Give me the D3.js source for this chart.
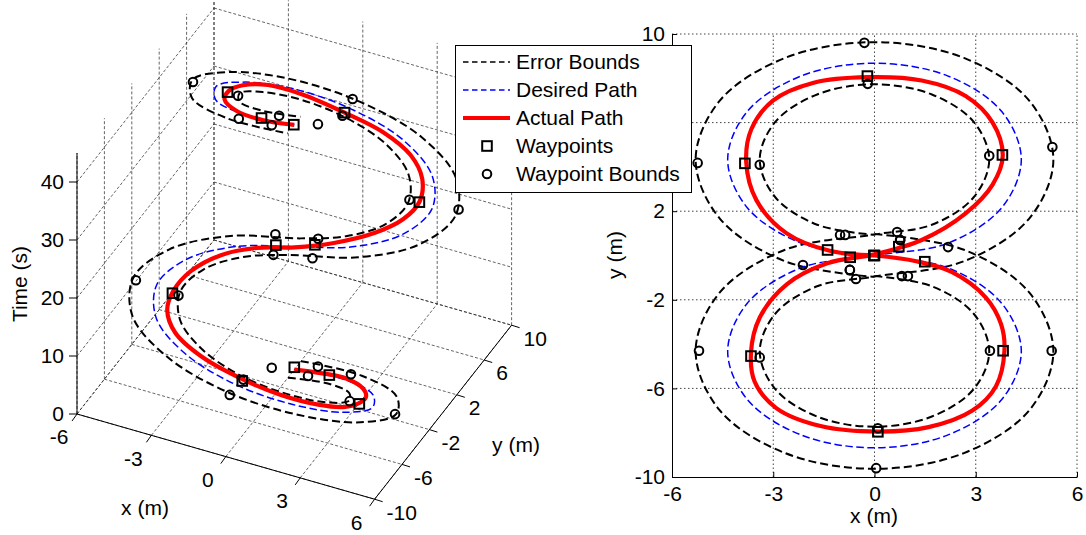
<!DOCTYPE html>
<html>
<head>
<meta charset="utf-8">
<script src="https://cdn.jsdelivr.net/npm/d3@7"></script>
<style>
  body { margin: 0; background: #fff; }
  svg { display: block; font-family: "Liberation Sans", Arial, sans-serif; }
</style>
</head>
<body>
<svg width="1086" height="535"></svg>
<script>
// ticks
var xTicks = [-6, -3, 0, 3, 6];
var yTicks = [-10, -6, -2, 2, 6, 10];
var tTicks = [0, 10, 20, 30, 40];

// desired path (x, y in m, time in s)
var desiredX = [0, 2.18, 3.77, 4.35, 3.77, 2.18, 0, -2.18, -3.77, -4.35, -3.77, -2.18, 0, 2.18, 3.77, 4.35, 3.77, 2.18, 0, -2.18, -3.77, -4.35, -3.77, -2.18, 0];
var desiredY = [0, -0.56, -2.16, -4.33, -6.5, -8.1, -8.68, -8.1, -6.5, -4.33, -2.16, -0.56, 0, 0.56, 2.16, 4.33, 6.5, 8.1, 8.68, 8.1, 6.5, 4.33, 2.16, 0.56, 0];
var desiredT = [0, 1.8, 3.5, 5.3, 7.0, 8.8, 10.5, 12.3, 14.0, 15.8, 17.6, 19.4, 21.2, 23.0, 24.7, 26.5, 28.2, 30.0, 31.7, 33.5, 35.2, 37.0, 38.7, 40.5, 42.2];

// error bounds (same times as desired path)
var boundAX = [0, 2.65, 4.59, 5.3, 4.59, 2.65, 0, -2.65, -4.59, -5.3, -4.59, -2.65, 0, 1.7, 2.94, 3.4, 2.94, 1.7, 0, -1.7, -2.94, -3.4, -2.94, -1.7, 0];
var boundAY = [0.97, 0.26, -1.68, -4.33, -6.98, -8.92, -9.63, -8.92, -6.98, -4.33, -1.68, 0.26, 0.95, 1.39, 2.63, 4.33, 6.03, 7.27, 7.73, 7.27, 6.03, 4.33, 2.63, 1.39, 0.93];
var boundBX = [0, 1.7, 2.94, 3.4, 2.94, 1.7, 0, -1.7, -2.94, -3.4, -2.94, -1.7, 0, 2.65, 4.59, 5.3, 4.59, 2.65, 0, -2.65, -4.59, -5.3, -4.59, -2.65, 0];
var boundBY = [-0.93, -1.39, -2.63, -4.33, -6.03, -7.27, -7.73, -7.27, -6.03, -4.33, -2.63, -1.39, -0.95, -0.26, 1.68, 4.33, 6.98, 8.92, 9.63, 8.92, 6.98, 4.33, 1.68, -0.26, -0.97];

// actual path
var actualX = [0, 1.2, 2.3, 3.3, 3.75, 3.85, 3.6, 2.9, 1.6, 0.1, -1.6, -2.9, -3.55, -3.66, -3.4, -2.6, -1.4, 0, 1.4, 2.7, 3.5, 3.8, 3.5, 2.7, 1.4, -0.2, -1.8, -3.0, -3.65, -3.8, -3.5, -2.6, -1.3, 0];
var actualY = [0, -0.25, -0.75, -1.9, -3.1, -4.3, -5.9, -7.0, -7.75, -7.95, -7.7, -6.9, -5.7, -4.4, -2.8, -1.3, -0.35, 0.05, 0.7, 1.9, 3.2, 4.5, 6.0, 7.2, 7.9, 8.05, 7.8, 7.0, 5.7, 4.2, 2.5, 1.0, 0.2, 0];
var actualT = [0, 1.2, 2.4, 3.6, 4.6, 5.5, 6.8, 8.0, 9.2, 10.4, 11.8, 13.2, 14.5, 15.7, 17.0, 18.5, 19.8, 21.0, 22.5, 24.0, 25.4, 26.8, 28.2, 29.5, 30.8, 32.0, 33.5, 34.9, 36.0, 37.1, 38.5, 39.9, 41.1, 42.2];

// waypoints
var wpX = [0, 1.49, 3.81, 0.10, -3.66, -0.72, 0.72, 3.79, -0.21, -3.84, -1.39, -0.02];
var wpY = [0, -0.28, -4.30, -7.96, -4.54, -0.08, 0.40, 4.54, 8.10, 4.16, 0.25, 0.0];
var wpT = [0.4, 1.3, 5.2, 10.1, 15.5, 20.7, 21.8, 26.7, 31.9, 36.9, 41.3, 42.2];

// waypoint bounds
var wbX = [-0.73, 0.76, 0.81, 2.18, 5.25, 3.42, 0.05, 0.1, -5.2, -3.4, -0.55, -1.02, 0.99, 0.67, 5.27, 3.4, -0.3, -0.2, -5.24, -3.4, -2.12, -0.87, -0.73, 0.76];
var wbY = [-0.65, 0.70, -0.93, 0.38, -4.3, -4.3, -9.6, -7.8, -4.3, -4.6, -1.06, 0.93, -0.93, 1.06, 4.9, 4.5, 9.6, 7.75, 4.18, 4.1, -0.43, 0.93, -0.65, 0.70];
var wbT = [0.4, 0.4, 1.3, 1.3, 5.2, 5.2, 10.1, 10.1, 15.5, 15.5, 20.7, 20.7, 21.8, 21.8, 26.7, 26.7, 31.9, 31.9, 36.9, 36.9, 41.3, 41.3, 42.2, 42.2];

var legendNames = ["Error Bounds", "Desired Path", "Actual Path", "Waypoints", "Waypoint Bounds"];

function zip(X, Y, T) {
  return X.map(function(d, i) { return {x: d, y: Y[i], t: T[i]}; });
}

var svg = d3.select("svg");
var font = 21;

// ---------- 3D plot (left) ----------
var tMax = 45;
var origin = [77, 414];
var ex = [297.6, 85.2], ey = [137, -174], ez = [0, -261];
var kx = d3.scaleLinear().domain([-6, 6]).range([0, 1]);
var ky = d3.scaleLinear().domain([-10, 10]).range([0, 1]);
var kz = d3.scaleLinear().domain([0, tMax]).range([0, 1]);

function proj(x, y, t) {
  var a = kx(x), b = ky(y), c = kz(t);
  return [origin[0] + a * ex[0] + b * ey[0] + c * ez[0],
          origin[1] + a * ex[1] + b * ey[1] + c * ez[1]];
}

var g3 = svg.append("g");

var gridSegs = [];
xTicks.forEach(function(v) {
  gridSegs.push([proj(v, -10, 0), proj(v, 10, 0)]);
  gridSegs.push([proj(v, 10, 0), proj(v, 10, tMax)]);
});
yTicks.forEach(function(v) {
  gridSegs.push([proj(-6, v, 0), proj(6, v, 0)]);
  gridSegs.push([proj(-6, v, 0), proj(-6, v, tMax)]);
});
tTicks.forEach(function(v) {
  gridSegs.push([proj(-6, -10, v), proj(-6, 10, v)]);
  gridSegs.push([proj(-6, 10, v), proj(6, 10, v)]);
});

g3.selectAll(".grid3")
    .data(gridSegs)
  .enter().append("line")
    .attr("x1", function(d) { return d[0][0]; })
    .attr("y1", function(d) { return d[0][1]; })
    .attr("x2", function(d) { return d[1][0]; })
    .attr("y2", function(d) { return d[1][1]; })
    .style("stroke", "#222")
    .style("stroke-width", 0.7)
    .style("stroke-dasharray", "3,2");

var axisSegs = [
  [proj(-6, -10, 0), proj(-6, -10, tMax)],
  [proj(-6, -10, 0), proj(6, -10, 0)],
  [proj(6, -10, 0), proj(6, 10, 0)]
];
g3.selectAll(".axis3")
    .data(axisSegs)
  .enter().append("line")
    .attr("x1", function(d) { return d[0][0]; })
    .attr("y1", function(d) { return d[0][1]; })
    .attr("x2", function(d) { return d[1][0]; })
    .attr("y2", function(d) { return d[1][1]; })
    .style("stroke", "#000")
    .style("stroke-width", 1);

// z ticks
tTicks.forEach(function(v) {
  var p = proj(-6, -10, v);
  g3.append("line").attr("x1", p[0] - 8).attr("y1", p[1]).attr("x2", p[0]).attr("y2", p[1])
      .style("stroke", "#000");
  g3.append("text").attr("x", p[0] - 13).attr("y", p[1]).attr("dy", "0.35em")
      .style("text-anchor", "end").style("font-size", font + "px").text(v);
});
// x ticks
xTicks.forEach(function(v) {
  var p = proj(v, -10, 0);
  g3.append("line").attr("x1", p[0]).attr("y1", p[1]).attr("x2", p[0] - 5).attr("y2", p[1] + 7)
      .style("stroke", "#000");
  g3.append("text").attr("x", p[0] - 18).attr("y", p[1] + 23).attr("dy", "0.35em")
      .style("text-anchor", "middle").style("font-size", font + "px").text(v);
});
// y ticks
yTicks.forEach(function(v) {
  var p = proj(6, v, 0);
  g3.append("line").attr("x1", p[0]).attr("y1", p[1]).attr("x2", p[0] + 8).attr("y2", p[1] + 2.5)
      .style("stroke", "#000");
  g3.append("text").attr("x", p[0] + 12).attr("y", p[1] + 13).attr("dy", "0.35em")
      .style("text-anchor", "start").style("font-size", font + "px").text(v);
});

g3.append("text").attr("x", 145).attr("y", 508).attr("dy", "0.35em")
    .style("text-anchor", "middle").style("font-size", font + "px").text("x (m)");
g3.append("text").attr("x", 516).attr("y", 445).attr("dy", "0.35em")
    .style("text-anchor", "middle").style("font-size", font + "px").text("y (m)");
g3.append("text").attr("transform", "translate(27,284) rotate(-90)")
    .style("text-anchor", "middle").style("font-size", font + "px").text("Time (s)");

var line3 = d3.line()
    .x(function(d) { return proj(d.x, d.y, d.t)[0]; })
    .y(function(d) { return proj(d.x, d.y, d.t)[1]; })
    .curve(d3.curveCatmullRom.alpha(0.5));

// ---------- 2D plot (right) ----------
var x2 = d3.scaleLinear().domain([-6, 6]).range([672, 1077]);
var y2 = d3.scaleLinear().domain([-10, 10]).range([477, 34]);

var g2 = svg.append("g");

g2.selectAll(".gx")
    .data(xTicks.slice(1))
  .enter().append("line")
    .attr("x1", function(d) { return x2(d); }).attr("x2", function(d) { return x2(d); })
    .attr("y1", y2(-10)).attr("y2", y2(10))
    .style("stroke", "#444").style("stroke-width", 1).style("stroke-dasharray", "1.5,2.5");
g2.selectAll(".gy")
    .data(yTicks.slice(1))
  .enter().append("line")
    .attr("y1", function(d) { return y2(d); }).attr("y2", function(d) { return y2(d); })
    .attr("x1", x2(-6)).attr("x2", x2(6))
    .style("stroke", "#444").style("stroke-width", 1).style("stroke-dasharray", "1.5,2.5");

var fmt = function(d) { return String(d); };
var xAxis2 = d3.axisBottom(x2).tickValues(xTicks).tickFormat(fmt).tickSizeInner(-5).tickSizeOuter(0).tickPadding(9);
var yAxis2 = d3.axisLeft(y2).tickValues(yTicks).tickFormat(fmt).tickSizeInner(-5).tickSizeOuter(0).tickPadding(7);

g2.append("g").attr("transform", "translate(0," + y2(-10) + ")").call(xAxis2);
g2.append("g").attr("transform", "translate(" + x2(-6) + ",0)").call(yAxis2);
g2.selectAll(".tick text").style("font-size", font + "px").style("font-family", "Liberation Sans, Arial, sans-serif").attr("fill", "#000");
g2.selectAll(".domain, .tick line").attr("stroke", "#000");

g2.append("text").attr("x", 874).attr("y", 523)
    .style("text-anchor", "middle").style("font-size", font + "px").text("x (m)");
g2.append("text").attr("transform", "translate(622,255) rotate(-90)")
    .style("text-anchor", "middle").style("font-size", font + "px").text("y (m)");

var line2 = d3.line()
    .x(function(d) { return x2(d.x); })
    .y(function(d) { return y2(d.y); })
    .curve(d3.curveCatmullRom.alpha(0.5));

// ---------- series, drawn in both plots ----------
var boundA = zip(boundAX, boundAY, desiredT);
var boundB = zip(boundBX, boundBY, desiredT);
var desired = zip(desiredX, desiredY, desiredT);
var actual = zip(actualX, actualY, actualT);
var waypoints = zip(wpX, wpY, wpT);
var wpBounds = zip(wbX, wbY, wbT);

var styles = {
  bound: {stroke: "#000", width: 2, dash: "8,4"},
  desired: {stroke: "#0000ff", width: 1.5, dash: "7.5,3.5"},
  actual: {stroke: "#ff0000", width: 4.2, dash: null}
};
var mk = {half: 4.8, r: 4.3, w: 2};

function drawSeries(g, line, pos) {
  [[boundA, styles.bound], [boundB, styles.bound], [desired, styles.desired], [actual, styles.actual]]
    .forEach(function(s) {
      g.append("path").datum(s[0])
          .attr("d", line)
          .style("fill", "none")
          .style("stroke", s[1].stroke)
          .style("stroke-width", s[1].width)
          .style("stroke-dasharray", s[1].dash)
          .style("stroke-linejoin", "round");
    });

  g.selectAll(null)
      .data(waypoints)
    .enter().append("rect")
      .attr("x", function(d) { return pos(d)[0] - mk.half; })
      .attr("y", function(d) { return pos(d)[1] - mk.half; })
      .attr("width", 2 * mk.half).attr("height", 2 * mk.half)
      .style("fill", "none").style("stroke", "#000").style("stroke-width", mk.w);

  g.selectAll(null)
      .data(wpBounds)
    .enter().append("circle")
      .attr("cx", function(d) { return pos(d)[0]; })
      .attr("cy", function(d) { return pos(d)[1]; })
      .attr("r", mk.r)
      .style("fill", "none").style("stroke", "#000").style("stroke-width", mk.w);
}

drawSeries(g3, line3, function(d) { return proj(d.x, d.y, d.t); });
drawSeries(g2, line2, function(d) { return [x2(d.x), y2(d.y)]; });

// ---------- legend ----------
var lg = svg.append("g");
lg.append("rect").attr("x", 455.5).attr("y", 45.5).attr("width", 236).attr("height", 147)
    .style("fill", "#fff").style("stroke", "#000").style("stroke-width", 1);

var rowY = d3.scalePoint().domain(legendNames).range([62, 174]);
var legendKinds = ["bound", "desired", "actual", "square", "circle"];

legendNames.forEach(function(name, i) {
  var yy = rowY(name), kind = legendKinds[i];
  if (styles[kind]) {
    lg.append("line").attr("x1", 463).attr("x2", 510).attr("y1", yy).attr("y2", yy)
        .style("stroke", styles[kind].stroke)
        .style("stroke-width", kind === "bound" ? 1.5 : styles[kind].width)
        .style("stroke-dasharray", styles[kind].dash ? "5.5,3.5" : null);
  } else if (kind === "square") {
    lg.append("rect").attr("x", 487 - mk.half).attr("y", yy - mk.half)
        .attr("width", 2 * mk.half).attr("height", 2 * mk.half)
        .style("fill", "none").style("stroke", "#000").style("stroke-width", mk.w);
  } else {
    lg.append("circle").attr("cx", 487).attr("cy", yy).attr("r", mk.r)
        .style("fill", "none").style("stroke", "#000").style("stroke-width", mk.w);
  }
  lg.append("text").attr("x", 516).attr("y", yy).attr("dy", "0.35em")
      .style("font-size", font + "px").text(name);
});
</script>
</body>
</html>
